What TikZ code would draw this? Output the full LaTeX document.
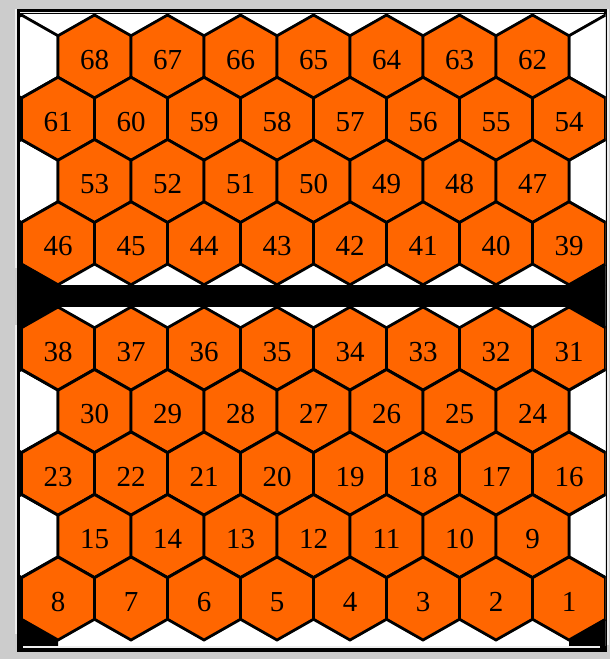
\documentclass[tikz,border=0pt]{standalone}
\usepackage{fontspec}
\setmainfont{Liberation Serif}
\definecolor{hexorange}{HTML}{FF6600}
\definecolor{pagegrey}{HTML}{CCCCCC}
\definecolor{bevel}{HTML}{EEEEEE}
\tikzset{
  hexcell/.style={fill=hexorange, draw=black, line width=2.8pt, line join=miter},
  blankcell/.style={fill=white, draw=black, line width=2.8pt, line join=miter},
  numlabel/.style={font=\fontsize{29}{29}\selectfont, anchor=base, inner sep=0pt},
  darkpart/.style={fill=black, draw=none}
}
\begin{document}
\begin{tikzpicture}[x=1pt,y=-1pt]
\useasboundingbox (0,0) rectangle (610,659);
% page and frame
\fill[pagegrey] (0,0) rectangle (610,659);
\fill[black] (16.5,9) rectangle (607,652);
\draw[bevel, line width=1.2pt] (16,9) -- (16,268);
\draw[bevel, line width=1.2pt] (16,325) -- (16,634);
\draw[bevel, line width=1.2pt] (20,12.5) -- (604,12.5);
\draw[bevel, line width=1.2pt] (23,647) -- (600,647);
\draw[bevel, line width=1.2pt] (608,9) -- (608,645);
\begin{scope}
  \clip (20,14) rectangle (605.5,645.5);
  \fill[white] (0,0) rectangle (640,680);
  % dark band and dark corner pieces
  \fill[darkpart] (0,285) rectangle (640,307);
  \fill[darkpart] (0,264.5) -- (21.5,264.5) -- (58,285) -- (0,285) -- cycle;
  \fill[darkpart] (0,307) -- (58,307) -- (21.5,328.75) -- (0,328.75) -- cycle;
  \fill[darkpart] (605.5,264.5) -- (640,264.5) -- (640,285) -- (569,285) -- cycle;
  \fill[darkpart] (569,307) -- (640,307) -- (640,328.75) -- (605.5,328.75) -- cycle;
  \fill[darkpart] (0,619.25) -- (21.5,619.25) -- (58,640) -- (58,680) -- (0,680) -- cycle;
  \fill[darkpart] (569,640) -- (605.5,619.25) -- (640,619.25) -- (640,680) -- (569,680) -- cycle;
  % blank edge cells
  \foreach \ry in {56.5,181,411,536}{
    \foreach \cx in {21.5,605.5}{
      \path[blankcell] (\cx,\ry) ++(0,-41.5) -- ++(36.5,20.75) -- ++(0,41.5)
        -- ++(-36.5,20.75) -- ++(-36.5,-20.75) -- ++(0,-41.5) -- cycle;
    }
  }
  % numbered cells
  \foreach \ry/\rx/\rn in {56.5/94.5/6,118.75/58/7,181/94.5/6,243.25/58/7,
                            348.5/58/7,411/94.5/6,473.5/58/7,536/94.5/6,598.5/58/7}{
    \foreach \k in {0,...,\rn}{
      \pgfmathsetmacro\cx{\rx+73*\k}
      \path[hexcell] (\cx,\ry) ++(0,-41.5) -- ++(36.5,20.75) -- ++(0,41.5)
        -- ++(-36.5,20.75) -- ++(-36.5,-20.75) -- ++(0,-41.5) -- cycle;
    }
  }
\end{scope}
% labels
\foreach \ry/\rx/\rn/\rf in {56.5/94.5/6/68,118.75/58/7/61,181/94.5/6/53,243.25/58/7/46,
                              348.5/58/7/38,411/94.5/6/30,473.5/58/7/23,536/94.5/6/15,598.5/58/7/8}{
  \foreach \k in {0,...,\rn}{
    \pgfmathsetmacro\cx{\rx+73*\k}
    \pgfmathtruncatemacro\num{\rf-\k}
    \node[numlabel] (n\num) at (\cx,\ry+12.5) {\num};
  }
}
\end{tikzpicture}
\end{document}
